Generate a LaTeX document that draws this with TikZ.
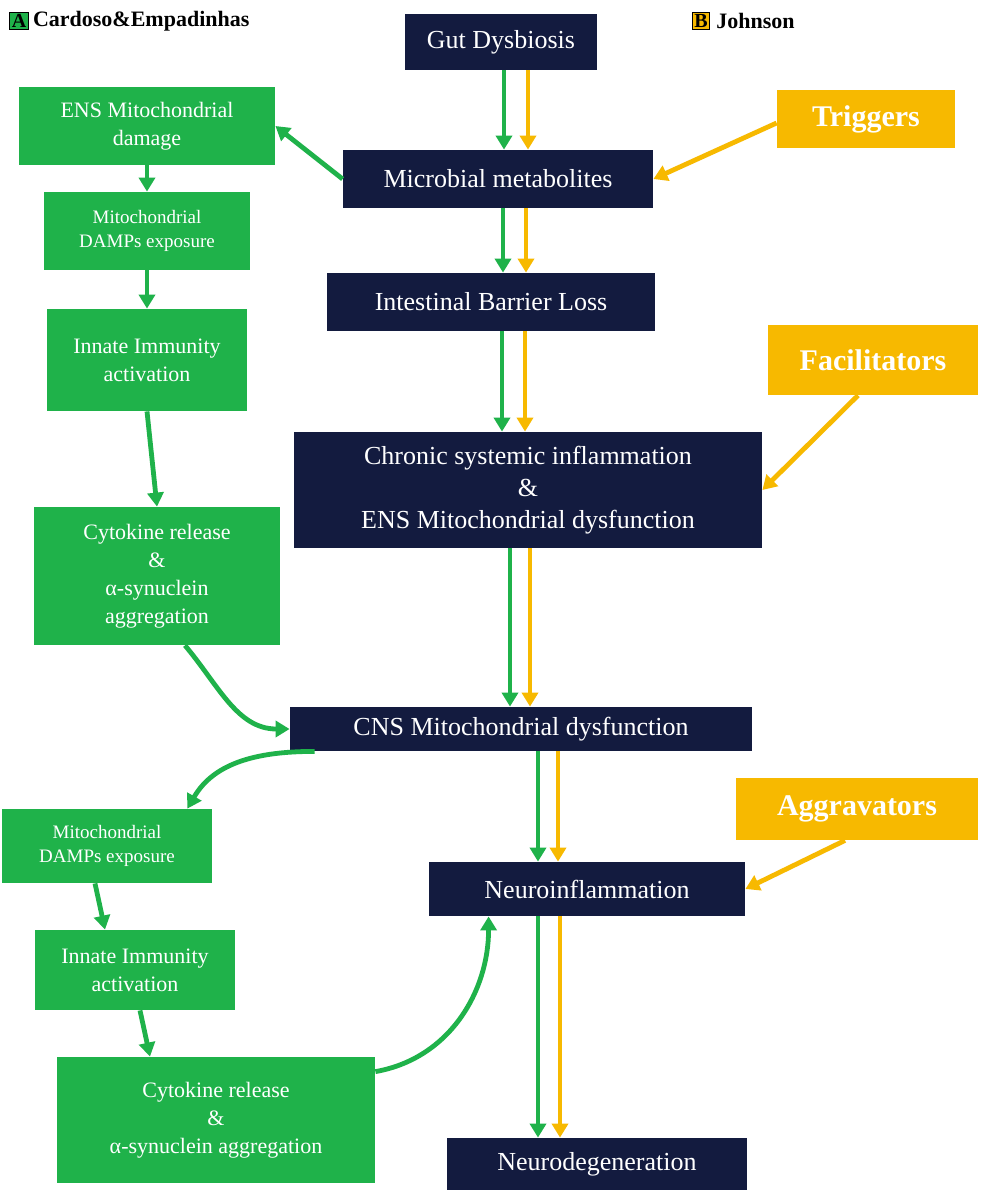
\documentclass[tikz,border=0pt]{standalone}
\usepackage{fontspec}
\setmainfont{Liberation Serif}
\usetikzlibrary{positioning, calc, arrows.meta}
\definecolor{navy}{HTML}{131B3F}
\definecolor{leaf}{HTML}{1FB24A}
\definecolor{gold}{HTML}{F7B900}
\tikzset{
	dark/.style ={
		fill=navy, text=white, align=center, inner sep=0mm,
		font={\fontsize{13}{16}\selectfont}
	},
	greenbox/.style ={
		fill=leaf, text=white, align=center, inner sep=0mm,
		font={\fontsize{11}{14}\selectfont}
	},
	yelbox/.style ={
		fill=gold, text=white, align=center, inner sep=0mm,
		font={\fontsize{15}{18}\selectfont\bfseries}
	},
	garrow/.style ={draw=leaf, line width=2.4pt, -{Triangle[length=7pt,width=8pt]}},
	yarrow/.style ={draw=gold, line width=2.4pt, -{Triangle[length=7pt,width=8pt]}},
}
% pair of parallel arrows between two dark boxes
\newcommand{\pairarrow}[4]{%
	\path ($(#1.south)+(#3,0)$) coordinate (#1g) ($(#1.south)+(#4,0)$) coordinate (#1y);
	\draw[garrow] (#1g) -- (#1g |- #2.north);
	\draw[yarrow] (#1y) -- (#1y |- #2.north);
}
\begin{document}
\begin{tikzpicture}[x=0.5pt, y=-0.5pt]
\useasboundingbox[fill=white] (0,0) rectangle (987,1200);

% legend
\node(legA)[fill=leaf, draw=black, inner sep=1pt, font=\bfseries\fontsize{10}{12}\selectfont] at (19,21) {A};
\node(legAt)[right=2pt of legA, inner sep=0pt, font=\bfseries\fontsize{11}{13}\selectfont] {Cardoso\&Empadinhas};
\node(legB)[fill=gold, draw=black, inner sep=1pt, font=\bfseries\fontsize{10}{12}\selectfont] at (701,21) {B};
\node(legBt)[right=3pt of legB, inner sep=0pt, font=\bfseries\fontsize{11}{13}\selectfont] {Johnson};

% main chain
\node(gut)[dark, minimum width=96pt, minimum height=28pt] at (501,42) {Gut Dysbiosis};
\node(micro)[dark, minimum width=155pt, minimum height=29pt] at (498,179) {Microbial metabolites};
\node(barrier)[dark, minimum width=164pt, minimum height=29pt] at (491,302) {Intestinal Barrier Loss};
\node(chronic)[dark, minimum width=234pt, minimum height=58pt] at (528,490) {Chronic systemic inflammation\\\&\\ENS Mitochondrial dysfunction};
\node(cns)[dark, minimum width=231pt, minimum height=22pt] at (521,729) {CNS Mitochondrial dysfunction};
\node(neuroinf)[dark, minimum width=158pt, minimum height=27pt] at (587,889) {Neuroinflammation};
\node(neurodeg)[dark, minimum width=150pt, minimum height=26pt] at (597,1164) {Neurodegeneration};

% green path, upper
\node(ensdmg)[greenbox, minimum width=128pt, minimum height=39pt] at (147,126) {ENS Mitochondrial\\damage};
\node(damps1)[greenbox, minimum width=103pt, minimum height=39pt, font={\fontsize{9.5}{12}\selectfont}] at (147,231) {Mitochondrial\\DAMPs exposure};
\node(innate1)[greenbox, minimum width=100pt, minimum height=51pt] at (147,360) {Innate Immunity\\activation};
\node(cyto1)[greenbox, minimum width=123pt, minimum height=69pt] at (157,576) {Cytokine release\\\&\\α-synuclein\\aggregation};

% green path, lower
\node(damps2)[greenbox, minimum width=105pt, minimum height=37pt, font={\fontsize{9.5}{12}\selectfont}] at (107,846) {Mitochondrial\\DAMPs exposure};
\node(innate2)[greenbox, minimum width=100pt, minimum height=40pt] at (135,970) {Innate Immunity\\activation};
\node(cyto2)[greenbox, minimum width=159pt, minimum height=63pt] at (216,1120) {Cytokine  release\\\&\\α-synuclein aggregation};

% Johnson factors
\node(trig)[yelbox, minimum width=89pt, minimum height=29pt] at (866,119) {Triggers};
\node(facil)[yelbox, minimum width=105pt, minimum height=35pt] at (873,360) {Facilitators};
\node(aggr)[yelbox, minimum width=121pt, minimum height=31pt] at (857,809) {Aggravators};

% parallel arrows
\pairarrow{gut}{micro}{3}{27}
\pairarrow{micro}{barrier}{5}{28}
\pairarrow{barrier}{chronic}{11}{34}
\pairarrow{chronic}{cns}{-18}{2}
\pairarrow{cns}{neuroinf}{17}{37}
\pairarrow{neuroinf}{neurodeg}{-49}{-27}

% green links
\draw[garrow] (micro.west) -- (ensdmg.east);
\draw[garrow] (ensdmg) -- (damps1);
\draw[garrow] (damps1) -- (innate1);
\draw[garrow] (innate1.south) -- (cyto1.north);
\draw[garrow] ($(cyto1.south)+(28,0)$) to[out=-50, in=180] (cns.west);
\draw[garrow] ($(cns.south west)+(25,0)$) to[out=180, in=60] ($(damps2.north east)+(-25,0)$);
\draw[garrow] ($(damps2.south)+(-12,0)$) -- ($(innate2.north)+(-30,0)$);
\draw[garrow] ($(innate2.south)+(5,0)$) -- ($(cyto2.north)+(-66,0)$);
\draw[garrow] ($(cyto2.north east)+(0,15)$) to[out=10, in=-90] ($(neuroinf.south west)+(60,0)$);

% yellow links
\draw[yarrow] ($(trig.west)+(0,4)$) -- (micro.east);
\draw[yarrow] ($(facil.south)+(-15,0)$) -- (chronic.east);
\draw[yarrow] ($(aggr.south)+(-12,0)$) -- (neuroinf.east);

\end{tikzpicture}
\end{document}
